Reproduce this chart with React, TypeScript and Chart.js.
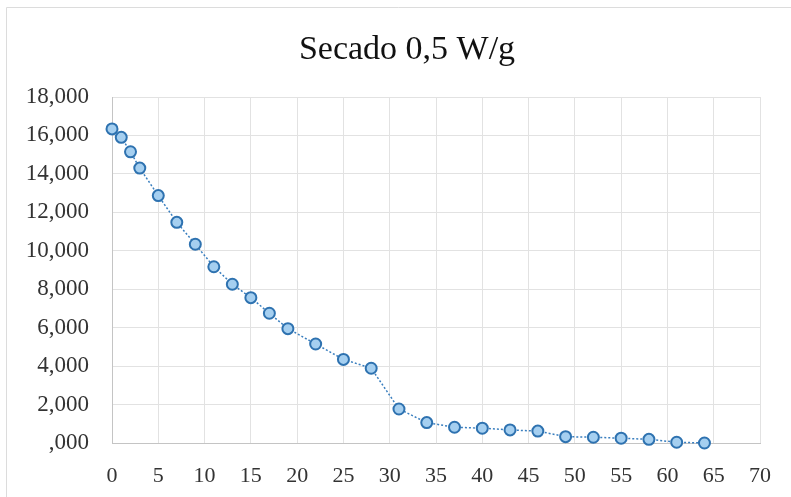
import React, { useEffect, useRef } from "react";
import { Chart, registerables } from "chart.js";

Chart.register(...registerables);

const titleText = "Secado 0,5 W/g";
const timeValues = [0, 1, 2, 3, 5, 7, 9, 11, 13, 15, 17, 19, 22, 25, 28, 31, 34, 37, 40, 43, 46, 49, 52, 55, 58, 61, 64];
const moistureValues = [16.34, 15.9, 15.15, 14.3, 12.87, 11.48, 10.34, 9.17, 8.26, 7.56, 6.75, 5.95, 5.15, 4.35, 3.89, 1.77, 1.06, 0.82, 0.77, 0.68, 0.62, 0.33, 0.3, 0.25, 0.19, 0.04, 0.0];
const xMin = 0;
const xMax = 70;
const xStep = 5;
const yMin = 0;
const yMax = 18;
const yStep = 2;

const W = 791;
const H = 497;

export default function App() {
  const ref = useRef<HTMLCanvasElement | null>(null);

  useEffect(() => {
    const canvas = ref.current;
    if (!canvas) return;

    const decor = {
      id: "decor",
      beforeDraw(chart: any) {
        const ctx = chart.ctx;
        ctx.save();
        ctx.fillStyle = "#ffffff";
        ctx.fillRect(0, 0, W, H);
        ctx.strokeStyle = "#dcdcdc";
        ctx.lineWidth = 1;
        ctx.beginPath();
        ctx.moveTo(6.5, H);
        ctx.lineTo(6.5, 7.5);
        ctx.lineTo(W, 7.5);
        ctx.stroke();
        ctx.restore();
      },
      afterDraw(chart: any) {
        const ctx = chart.ctx;
        ctx.save();
        ctx.font = "34px 'Liberation Serif', 'Times New Roman', serif";
        ctx.fillStyle = "#111111";
        ctx.textAlign = "center";
        ctx.textBaseline = "middle";
        ctx.fillText(titleText, 407, 50);
        ctx.restore();
      },
    };

    const points = timeValues.map((x, i) => ({ x, y: moistureValues[i] }));

    const chart = new Chart(canvas, {
      type: "scatter",
      data: {
        datasets: [
          {
            data: points,
            showLine: true,
            borderColor: "#3a7fbf",
            borderWidth: 1.5,
            borderDash: [2, 2],
            pointRadius: 5.5,
            pointBorderWidth: 2,
            pointBorderColor: "#2e72b0",
            pointBackgroundColor: "#a5cff0",
            clip: false,
          } as any,
        ],
      },
      options: {
        responsive: false,
        animation: false,
        layout: { padding: { top: 97, right: 28, left: 0, bottom: 0 } },
        plugins: {
          legend: { display: false },
          title: { display: false },
          tooltip: { enabled: false },
        },
        scales: {
          x: {
            type: "linear",
            min: xMin,
            max: xMax,
            ticks: {
              stepSize: xStep,
              padding: 20,
              color: "#333333",
              font: { family: "'Liberation Serif', serif", size: 22 },
            },
            grid: { color: "#e2e2e2", drawTicks: false },
            border: { color: "#c4c4c4" },
            afterFit: (s: any) => {
              s.height = 54;
            },
          },
          y: {
            type: "linear",
            min: yMin,
            max: yMax,
            ticks: {
              stepSize: yStep,
              padding: 23,
              color: "#333333",
              font: { family: "'Liberation Serif', serif", size: 23 },
              callback: (v: any) => (Number(v) === 0 ? ",000" : Number(v).toFixed(3).replace(".", ",")),
            },
            grid: { color: "#e2e2e2", drawTicks: false },
            border: { color: "#c4c4c4" },
            afterFit: (s: any) => {
              s.width = 112;
            },
          },
        },
      },
      plugins: [decor],
    });

    return () => chart.destroy();
  }, []);

  return (
    <div style={{ position: "absolute", left: 0, top: 0, width: W, height: H }}>
      <canvas ref={ref} width={W} height={H} style={{ width: W, height: H }} />
    </div>
  );
}
